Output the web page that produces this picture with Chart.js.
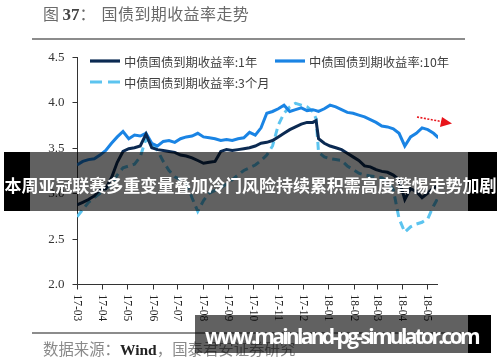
<!DOCTYPE html>
<html><head><meta charset="utf-8">
<script src="https://cdn.jsdelivr.net/npm/chart.js@4.4.1/dist/chart.umd.min.js"></script>
<style>
html,body{margin:0;padding:0;background:#fff;}
#wrap{position:relative;width:500px;height:362px;overflow:hidden;background:#fff;}
canvas{position:absolute;left:0;top:0;}
.abs{position:absolute;white-space:nowrap;}
</style></head><body>
<div id="wrap">
<canvas id="c" width="500" height="362"></canvas>
<div class="abs" id="title" style="left:43px;top:2px;font:16px 'Noto Sans CJK SC';color:#6a6a6a;line-height:22px;">图 <b style="font-family:'Liberation Serif';color:#444;font-size:17px;">37</b>：<span style="margin-left:6px;letter-spacing:0.4px;">国债到期收益率走势</span></div>
<div class="abs" style="left:32px;top:38px;width:433px;height:2px;background:#8c8c8c"></div>
<div class="abs" style="left:32px;top:332px;width:433px;height:2px;background:#8c8c8c"></div>
<div class="abs" id="src" style="left:43px;top:338px;font:15.4px 'Noto Sans CJK SC';color:#8a8a8a;line-height:20px;">数据来源：<b style="font-family:'Liberation Serif';color:#222;font-size:15.5px;">Wind</b>，国泰君安证券研究</div>

<div class="abs" style="left:4px;top:152px;width:26px;height:59px;background:#000"></div>
<div class="abs" style="left:30px;top:152px;width:438px;height:59px;background:rgba(0,0,0,0.62)"></div>
<div class="abs" style="left:468px;top:152px;width:29px;height:59px;background:#000"></div>
<div class="abs" style="left:4px;top:152px;width:493px;height:59px;text-align:center;line-height:59px;">
  <span id="t1" style="display:inline-block;font:bold 17px 'Noto Sans CJK SC';color:#fff;line-height:59px;padding-top:3px;">本周亚冠联赛多重变量叠加冷门风险持续累积需高度警惕走势加剧</span>
</div>

<div class="abs" style="left:195px;top:315px;width:273px;height:38px;background:rgba(0,0,0,0.62)"></div>
<div class="abs" style="left:468px;top:315px;width:23px;height:38px;background:#000"></div>
<div class="abs" style="left:205px;top:315px;height:38px;line-height:38px;">
  <span id="t2" style="display:inline-block;font:bold 21px 'Open Sans';color:#fff;line-height:38px;padding-top:2px;">www.mainland-pg-simulator.com</span>
</div>
</div>
<script>
const seriesNames = ['中债国债到期收益率:1年', '中债国债到期收益率:10年', '中债国债到期收益率:3个月'];
const dates = [
'2017-03-01','2017-03-08','2017-03-15','2017-03-22','2017-03-29',
'2017-04-05','2017-04-12','2017-04-19','2017-04-26',
'2017-05-03','2017-05-10','2017-05-17','2017-05-24','2017-05-31',
'2017-06-07','2017-06-14','2017-06-21','2017-06-28',
'2017-07-05','2017-07-12','2017-07-19','2017-07-26',
'2017-08-02','2017-08-09','2017-08-16','2017-08-23','2017-08-30',
'2017-09-06','2017-09-13','2017-09-20','2017-09-27',
'2017-10-04','2017-10-11','2017-10-18','2017-10-25',
'2017-11-01','2017-11-08','2017-11-15','2017-11-22','2017-11-29',
'2017-12-06','2017-12-13','2017-12-17','2017-12-20','2017-12-27',
'2018-01-03','2018-01-10','2018-01-17','2018-01-24','2018-01-31',
'2018-02-07','2018-02-14','2018-02-21','2018-02-28',
'2018-03-07','2018-03-14','2018-03-21','2018-03-28',
'2018-04-04','2018-04-11','2018-04-18','2018-04-25',
'2018-05-02','2018-05-09','2018-05-15'];
const yield1Y = [
2.87,2.90,2.93,2.97,3.04,
3.05,3.17,3.34,3.46,
3.49,3.50,3.52,3.65,3.50,
3.48,3.47,3.46,3.45,
3.42,3.41,3.39,3.36,
3.33,3.34,3.35,3.46,3.48,
3.47,3.48,3.49,3.50,
3.52,3.55,3.56,3.58,
3.62,3.66,3.70,3.73,3.76,
3.78,3.78,3.80,3.60,3.55,
3.52,3.50,3.48,3.44,3.40,
3.36,3.30,3.29,3.26,
3.24,3.23,3.20,3.15,
2.93,3.05,3.02,2.95,
3.00,3.06,3.08];
const yield10Y = [
3.31,3.35,3.37,3.38,3.42,
3.47,3.55,3.62,3.68,
3.60,3.64,3.63,3.66,3.55,
3.52,3.57,3.58,3.56,
3.60,3.62,3.63,3.66,
3.62,3.61,3.60,3.58,3.59,
3.58,3.60,3.61,3.67,
3.64,3.72,3.88,3.90,
3.93,3.97,3.90,3.92,3.94,
3.91,3.92,3.91,3.90,3.93,
3.97,3.95,3.92,3.89,3.88,
3.86,3.84,3.81,3.78,
3.74,3.73,3.71,3.66,
3.52,3.62,3.66,3.72,
3.70,3.66,3.61];
const yield3M = [
2.74,2.82,2.90,2.95,3.00,
3.05,3.10,3.20,3.28,
3.30,3.32,3.40,3.60,3.55,
3.47,3.35,3.25,3.18,
3.15,3.12,2.95,2.80,
2.92,3.00,3.03,3.06,3.10,
3.15,3.20,3.25,3.28,
3.31,3.36,3.42,3.52,
3.75,3.88,3.95,3.99,3.97,
3.95,3.90,3.82,3.45,3.40,
3.38,3.37,3.36,3.30,3.26,
3.22,3.20,3.19,3.18,
3.17,3.12,3.04,2.72,
2.57,2.63,2.66,2.68,
2.72,2.86,2.96];
const xTickLabels = ['17-03','17-04','17-05','17-06','17-07','17-08','17-09','17-10','17-11','17-12','18-01','18-02','18-03','18-04','18-05'];
const yTickValues = [2.0, 2.5, 3.0, 3.5, 4.0, 4.5];

const BASE = Date.UTC(2017, 2, 1);
function dayOf(s){ const p = s.split('-').map(Number); return (Date.UTC(p[0], p[1]-1, p[2]) - BASE) / 86400000; }
function tickDay(lbl){ const p = lbl.split('-').map(Number); return (Date.UTC(2000+p[0], p[1]-1, 1) - BASE) / 86400000; }
const xs = dates.map(dayOf);
const mk = arr => arr.map((v, i) => ({x: xs[i], y: v}));

const C1 = '#0b2a52', C10 = '#1a84e4', C3 = '#5cc4ef';

const axesPlugin = {
  id: 'axesPlugin',
  beforeDatasetsDraw(chart){
    const ctx = chart.ctx, sx = chart.scales.x, sy = chart.scales.y;
    ctx.save();
    ctx.strokeStyle = '#333'; ctx.lineWidth = 1;
    const x0 = Math.round(sx.getPixelForValue(0)) + 0.5;
    const yb = Math.round(sy.getPixelForValue(2.0)) + 0.5;
    const yt = sy.getPixelForValue(4.5);
    const xr = sx.getPixelForValue(sx.max);
    ctx.beginPath(); ctx.moveTo(x0, yt); ctx.lineTo(x0, yb); ctx.moveTo(x0, yb); ctx.lineTo(xr, yb); ctx.stroke();
    ctx.fillStyle = '#333'; ctx.font = "13px 'Liberation Serif'"; ctx.textAlign = 'right'; ctx.textBaseline = 'middle';
    yTickValues.forEach(v => {
      const py = Math.round(sy.getPixelForValue(v)) + 0.5;
      ctx.beginPath(); ctx.moveTo(x0 - 5, py); ctx.lineTo(x0, py); ctx.stroke();
      ctx.fillText(v.toFixed(1), x0 - 13, py);
    });
    ctx.font = "11.5px 'Liberation Serif'"; ctx.fillStyle = '#222'; ctx.textAlign = 'left';
    xTickLabels.forEach(l => {
      const px = Math.round(sx.getPixelForValue(tickDay(l))) + 0.5;
      ctx.beginPath(); ctx.moveTo(px, yb); ctx.lineTo(px, yb + 5); ctx.stroke();
      ctx.save(); ctx.translate(px, yb + 10); ctx.rotate(Math.PI / 2); ctx.fillText(l, 0, 0); ctx.restore();
    });
    ctx.restore();
  },
  afterDraw(chart){
    const ctx = chart.ctx;
    ctx.save();
    const items = [
      {label: seriesNames[0], color: C1, dash: [], x: 90, y: 61},
      {label: seriesNames[1], color: C10, dash: [], x: 275, y: 61},
      {label: seriesNames[2], color: C3, dash: [12, 6], x: 90, y: 82}
    ];
    ctx.font = "12.3px 'Noto Sans CJK SC'"; ctx.textBaseline = 'middle'; ctx.textAlign = 'left';
    items.forEach(it => {
      ctx.strokeStyle = it.color; ctx.lineWidth = 3.2; ctx.setLineDash(it.dash);
      ctx.beginPath(); ctx.moveTo(it.x, it.y); ctx.lineTo(it.x + 30, it.y); ctx.stroke();
      ctx.setLineDash([]);
      ctx.fillStyle = '#404040'; ctx.fillText(it.label, it.x + 34, it.y + 1);
    });
    ctx.strokeStyle = '#e8141b'; ctx.fillStyle = '#e8141b'; ctx.lineWidth = 1.6; ctx.setLineDash([2, 1.5]);
    ctx.beginPath(); ctx.moveTo(417, 117); ctx.lineTo(444, 122); ctx.stroke();
    ctx.setLineDash([]);
    ctx.beginPath(); ctx.moveTo(452, 123.5); ctx.lineTo(442, 117); ctx.lineTo(440, 127); ctx.closePath(); ctx.fill();
    ctx.restore();
  }
};

new Chart(document.getElementById('c'), {
  type: 'line',
  data: {
    datasets: [
      {label: seriesNames[0], data: mk(yield1Y), borderColor: C1, borderWidth: 3, pointRadius: 0, tension: 0, fill: false},
      {label: seriesNames[1], data: mk(yield10Y), borderColor: C10, borderWidth: 3, pointRadius: 0, tension: 0, fill: false},
      {label: seriesNames[2], data: mk(yield3M), borderColor: C3, borderWidth: 3, borderDash: [8, 5], pointRadius: 0, tension: 0, fill: false}
    ]
  },
  options: {
    responsive: false, animation: false, devicePixelRatio: 1,
    layout: {padding: {left: 77, right: 62, top: 57, bottom: 78}},
    scales: {
      x: {type: 'linear', min: 0, max: 439.4, display: false},
      y: {min: 2.0, max: 4.5, display: false}
    },
    plugins: {legend: {display: false}, tooltip: {enabled: false}}
  },
  plugins: [axesPlugin]
});

function fit(id, target){
  const el = document.getElementById(id);
  const w = el.getBoundingClientRect().width;
  const n = el.textContent.length;
  el.style.letterSpacing = ((target - w) / n) + 'px';
}
fit('t1', 492);
fit('t2', 273);
</script>
</body></html>
